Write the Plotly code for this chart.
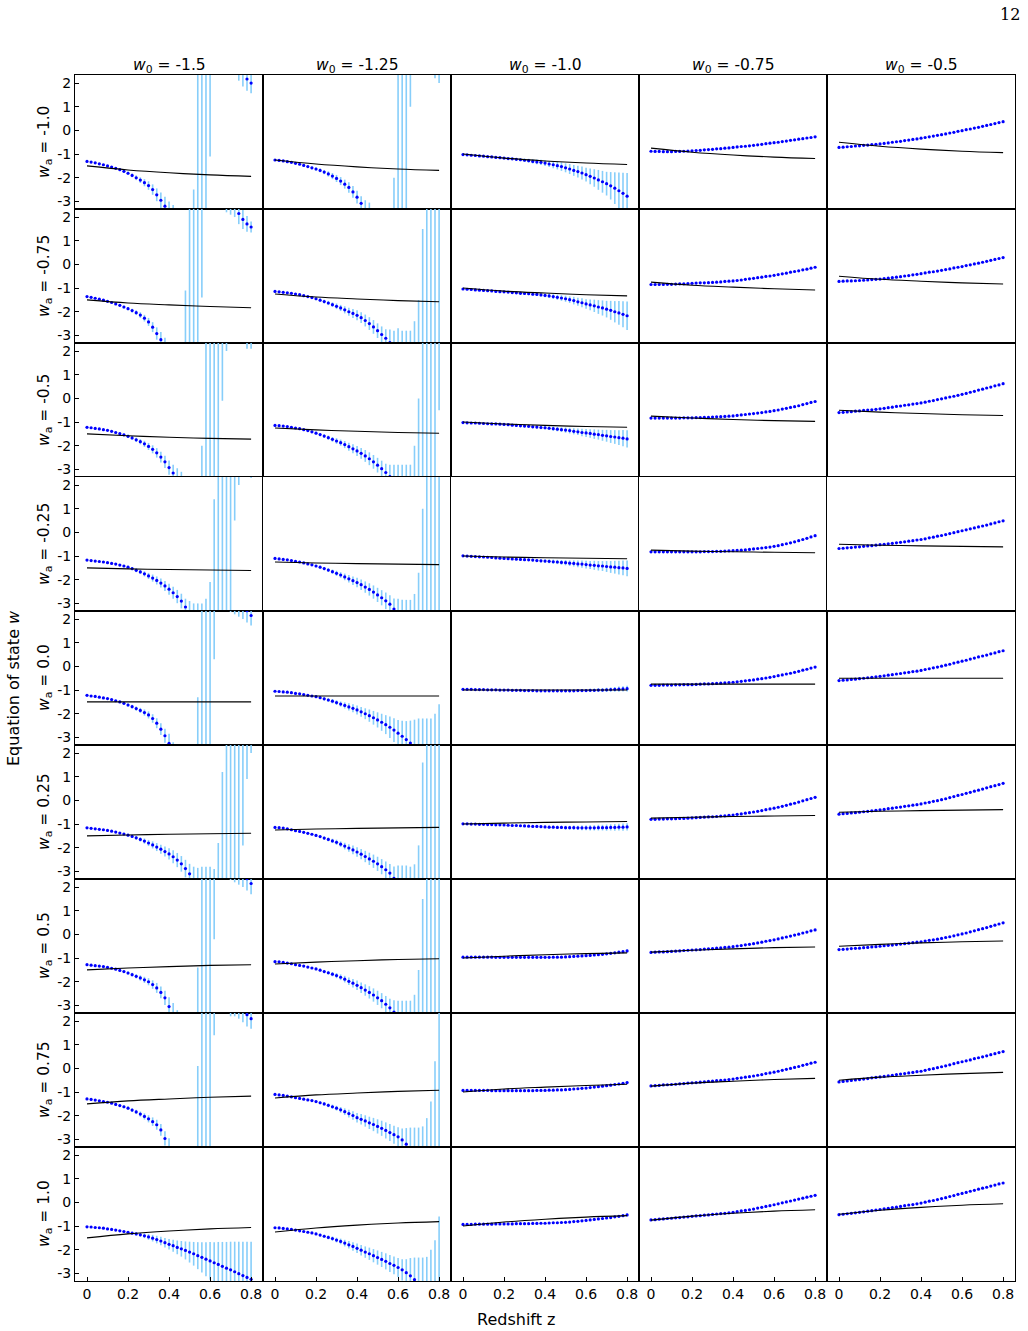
import plotly.graph_objects as go
from plotly.subplots import make_subplots

# ---------------- categories / ticks ----------------
W0_LABELS = ["-1.5", "-1.25", "-1.0", "-0.75", "-0.5"]
WA_LABELS = ["-1.0", "-0.75", "-0.5", "-0.25", "0.0", "0.25", "0.5", "0.75", "1.0"]
X_TICKVALS = [0, 0.2, 0.4, 0.6, 0.8]
X_TICKTEXT = ["0", "0.2", "0.4", "0.6", "0.8"]
Y_TICKVALS = [2, 1, 0, -1, -2, -3]
Y_TICKTEXT = ["2", "1", "0", "-1", "-2", "-3"]

# redshift grid of the reconstructed points
Z = [0.00, 0.02, 0.04, 0.06, 0.08, 0.10, 0.12, 0.14, 0.16, 0.18,
     0.20, 0.22, 0.24, 0.26, 0.28, 0.30, 0.32, 0.34, 0.36, 0.38,
     0.40, 0.42, 0.44, 0.46, 0.48, 0.50, 0.52, 0.54, 0.56, 0.58,
     0.60, 0.62, 0.64, 0.66, 0.68, 0.70, 0.72, 0.74, 0.76, 0.78,
     0.80]
# redshifts of the fiducial (black) curve samples
Z_LINE = [0.0, 0.2, 0.4, 0.6, 0.8]

# ---------------- fiducial curves (black), per row, 5 columns ----------------
L_R1 = [[-1.5, -1.67, -1.79, -1.88, -1.94], [-1.25, -1.42, -1.54, -1.63, -1.69], [-1.0, -1.17, -1.29, -1.38, -1.44], [-0.75, -0.92, -1.04, -1.13, -1.19], [-0.5, -0.67, -0.79, -0.88, -0.94]]
L_R2 = [[-1.5, -1.63, -1.71, -1.78, -1.83], [-1.25, -1.38, -1.46, -1.53, -1.58], [-1.0, -1.13, -1.21, -1.28, -1.33], [-0.75, -0.88, -0.96, -1.03, -1.08], [-0.5, -0.63, -0.71, -0.78, -0.83]]
L_R3 = [[-1.5, -1.58, -1.64, -1.69, -1.72], [-1.25, -1.33, -1.39, -1.44, -1.47], [-1.0, -1.08, -1.14, -1.19, -1.22], [-0.75, -0.83, -0.89, -0.94, -0.97], [-0.5, -0.58, -0.64, -0.69, -0.72]]
L_R4 = [[-1.5, -1.54, -1.57, -1.59, -1.61], [-1.25, -1.29, -1.32, -1.34, -1.36], [-1.0, -1.04, -1.07, -1.09, -1.11], [-0.75, -0.79, -0.82, -0.84, -0.86], [-0.5, -0.54, -0.57, -0.59, -0.61]]
L_R5 = [[-1.5, -1.5, -1.5, -1.5, -1.5], [-1.25, -1.25, -1.25, -1.25, -1.25], [-1.0, -1.0, -1.0, -1.0, -1.0], [-0.75, -0.75, -0.75, -0.75, -0.75], [-0.5, -0.5, -0.5, -0.5, -0.5]]
L_R6 = [[-1.5, -1.46, -1.43, -1.41, -1.39], [-1.25, -1.21, -1.18, -1.16, -1.14], [-1.0, -0.96, -0.93, -0.91, -0.89], [-0.75, -0.71, -0.68, -0.66, -0.64], [-0.5, -0.46, -0.43, -0.41, -0.39]]
L_R7 = [[-1.5, -1.42, -1.36, -1.31, -1.28], [-1.25, -1.17, -1.11, -1.06, -1.03], [-1.0, -0.92, -0.86, -0.81, -0.78], [-0.75, -0.67, -0.61, -0.56, -0.53], [-0.5, -0.42, -0.36, -0.31, -0.28]]
L_R8 = [[-1.5, -1.37, -1.29, -1.22, -1.17], [-1.25, -1.12, -1.04, -0.97, -0.92], [-1.0, -0.87, -0.79, -0.72, -0.67], [-0.75, -0.62, -0.54, -0.47, -0.42], [-0.5, -0.37, -0.29, -0.22, -0.17]]
L_R9 = [[-1.5, -1.33, -1.21, -1.12, -1.06], [-1.25, -1.08, -0.96, -0.87, -0.81], [-1.0, -0.83, -0.71, -0.62, -0.56], [-0.75, -0.58, -0.46, -0.37, -0.31], [-0.5, -0.33, -0.21, -0.12, -0.06]]

# ---------------- reconstructed w(z) (blue points) ----------------
W_R1 = [
    [-1.31, -1.34, -1.37, -1.41, -1.45, -1.50, -1.55, -1.60, -1.66, -1.73,
     -1.81, -1.90, -2.00, -2.10, -2.21, -2.33, -2.50, -2.72, -2.95, -3.20,
     -3.50, -4.00, -4.80, -5.80, -7.20, -9.00, -12.0, -16.0, -25.0, -40.0,
     60.0, 30.0, 15.0, 9.0, 6.5, 5.0, 4.0, 2.9, 2.5, 2.17, 2.0],
    [-1.25, -1.27, -1.29, -1.32, -1.35, -1.39, -1.43, -1.48, -1.53, -1.58,
     -1.63, -1.69, -1.76, -1.84, -1.93, -2.03, -2.14, -2.27, -2.41, -2.60,
     -2.82, -3.08, -3.35, -3.70, -4.2, -4.9, -5.8, -7.0, -9.0, -13.0,
     -20.0, -30.0, -50.0, 80.0, 30.0, 15.0, 9.0, 6.0, 4.5, 3.6, 3.2],
    [-1.02, -1.03, -1.05, -1.06, -1.08, -1.09, -1.11, -1.12, -1.14, -1.15,
     -1.17, -1.19, -1.20, -1.22, -1.24, -1.26, -1.28, -1.31, -1.33, -1.35,
     -1.38, -1.42, -1.45, -1.49, -1.53, -1.58, -1.63, -1.69, -1.74, -1.80,
     -1.87, -1.94, -2.01, -2.09, -2.17, -2.25, -2.34, -2.44, -2.55, -2.66, -2.78],
    [-0.88, -0.89, -0.89, -0.90, -0.90, -0.90, -0.89, -0.89, -0.88, -0.87,
     -0.86, -0.85, -0.84, -0.82, -0.81, -0.80, -0.78, -0.77, -0.75, -0.74,
     -0.72, -0.70, -0.68, -0.67, -0.65, -0.63, -0.61, -0.59, -0.56, -0.54,
     -0.52, -0.50, -0.47, -0.45, -0.42, -0.40, -0.37, -0.35, -0.32, -0.30, -0.27],
    [-0.72, -0.71, -0.69, -0.68, -0.66, -0.65, -0.63, -0.62, -0.60, -0.59,
     -0.57, -0.55, -0.53, -0.50, -0.48, -0.46, -0.43, -0.41, -0.38, -0.36,
     -0.33, -0.30, -0.27, -0.24, -0.21, -0.18, -0.15, -0.11, -0.08, -0.04,
     -0.01, 0.03, 0.06, 0.10, 0.13, 0.17, 0.21, 0.25, 0.29, 0.33, 0.37],
]
W_R2 = [
    [-1.36, -1.39, -1.43, -1.47, -1.51, -1.56, -1.61, -1.67, -1.73, -1.80,
     -1.87, -1.95, -2.04, -2.14, -2.27, -2.43, -2.65, -2.92, -3.18, -3.50,
     -4.0, -4.8, -6.0, -8.0, -11.0, -18.0, -30.0, -50.0, 60.0, 30.0,
     18.0, 11.0, 7.0, 5.0, 4.0, 3.2, 2.6, 2.15, 1.90, 1.71, 1.58],
    [-1.14, -1.16, -1.18, -1.20, -1.22, -1.25, -1.28, -1.32, -1.36, -1.40,
     -1.45, -1.51, -1.57, -1.63, -1.70, -1.77, -1.84, -1.92, -2.00, -2.07,
     -2.15, -2.25, -2.37, -2.50, -2.64, -2.80, -2.96, -3.12, -3.30, -3.80,
     -4.5, -5.0, -5.5, -6.0, -7.0, -9.0, -12.0, -20.0, -30.0, -50.0, -80.0],
    [-1.04, -1.05, -1.06, -1.08, -1.09, -1.10, -1.11, -1.12, -1.14, -1.15,
     -1.16, -1.17, -1.19, -1.20, -1.22, -1.23, -1.24, -1.26, -1.27, -1.29,
     -1.31, -1.33, -1.36, -1.39, -1.42, -1.45, -1.49, -1.53, -1.58, -1.62,
     -1.67, -1.71, -1.75, -1.80, -1.84, -1.89, -1.94, -2.00, -2.05, -2.11, -2.17],
    [-0.85, -0.85, -0.85, -0.85, -0.84, -0.84, -0.83, -0.82, -0.82, -0.81,
     -0.80, -0.79, -0.78, -0.78, -0.77, -0.76, -0.75, -0.74, -0.72, -0.71,
     -0.70, -0.68, -0.66, -0.63, -0.61, -0.59, -0.56, -0.54, -0.51, -0.49,
     -0.46, -0.43, -0.40, -0.37, -0.33, -0.30, -0.27, -0.23, -0.20, -0.16, -0.12],
    [-0.72, -0.71, -0.70, -0.70, -0.69, -0.68, -0.67, -0.66, -0.64, -0.63,
     -0.62, -0.60, -0.58, -0.56, -0.54, -0.52, -0.49, -0.47, -0.44, -0.42,
     -0.39, -0.36, -0.33, -0.31, -0.28, -0.25, -0.22, -0.19, -0.15, -0.12,
     -0.09, -0.05, -0.02, 0.02, 0.05, 0.09, 0.13, 0.17, 0.21, 0.25, 0.29],
]
W_R3 = [
    [-1.22, -1.24, -1.27, -1.29, -1.32, -1.35, -1.39, -1.44, -1.49, -1.54,
     -1.60, -1.67, -1.75, -1.83, -1.92, -2.03, -2.15, -2.30, -2.48, -2.68,
     -2.92, -3.15, -3.40, -3.8, -4.4, -5.2, -6.5, -8.5, -12.0, -20.0,
     -35.0, -60.0, -120.0, 90.0, 35.0, 15.0, 9.0, 6.0, 4.5, 3.6, 3.2],
    [-1.14, -1.15, -1.17, -1.19, -1.22, -1.25, -1.28, -1.32, -1.36, -1.41,
     -1.47, -1.53, -1.59, -1.66, -1.73, -1.80, -1.87, -1.95, -2.04, -2.13,
     -2.22, -2.32, -2.43, -2.55, -2.68, -2.82, -2.97, -3.13, -3.30, -3.6,
     -4.0, -4.4, -4.8, -5.3, -6.5, -9.0, -15.0, -30.0, -60.0, -150.0, 20.0],
    [-1.02, -1.03, -1.04, -1.04, -1.05, -1.06, -1.07, -1.08, -1.08, -1.09,
     -1.10, -1.11, -1.13, -1.14, -1.16, -1.17, -1.18, -1.20, -1.21, -1.23,
     -1.24, -1.26, -1.28, -1.30, -1.32, -1.34, -1.36, -1.39, -1.41, -1.44,
     -1.46, -1.48, -1.51, -1.53, -1.56, -1.58, -1.61, -1.63, -1.66, -1.68, -1.71],
    [-0.83, -0.83, -0.83, -0.83, -0.83, -0.83, -0.83, -0.83, -0.82, -0.82,
     -0.82, -0.81, -0.81, -0.80, -0.80, -0.79, -0.78, -0.77, -0.76, -0.75,
     -0.74, -0.72, -0.70, -0.68, -0.66, -0.64, -0.62, -0.60, -0.57, -0.55,
     -0.52, -0.49, -0.45, -0.42, -0.38, -0.35, -0.31, -0.26, -0.22, -0.17, -0.13],
    [-0.60, -0.59, -0.57, -0.56, -0.54, -0.53, -0.51, -0.49, -0.48, -0.46,
     -0.44, -0.42, -0.39, -0.37, -0.34, -0.32, -0.29, -0.27, -0.24, -0.22,
     -0.19, -0.16, -0.12, -0.09, -0.05, -0.02, 0.02, 0.06, 0.09, 0.13,
     0.17, 0.21, 0.26, 0.30, 0.35, 0.39, 0.44, 0.48, 0.53, 0.57, 0.62],
]
W_R4 = [
    [-1.17, -1.19, -1.21, -1.23, -1.25, -1.28, -1.31, -1.34, -1.38, -1.42,
     -1.47, -1.53, -1.60, -1.67, -1.75, -1.84, -1.93, -2.03, -2.14, -2.26,
     -2.40, -2.55, -2.71, -2.90, -3.15, -3.5, -3.9, -4.4, -5.0, -6.0,
     -8.0, -12.0, -20.0, -40.0, -80.0, -200.0, 30.0, 10.0, 6.0, 4.5, 3.5],
    [-1.10, -1.12, -1.14, -1.16, -1.19, -1.22, -1.25, -1.29, -1.33, -1.37,
     -1.42, -1.47, -1.53, -1.59, -1.66, -1.73, -1.80, -1.88, -1.96, -2.04,
     -2.12, -2.21, -2.31, -2.41, -2.52, -2.64, -2.76, -2.89, -3.03, -3.24,
     -3.5, -3.9, -4.3, -4.8, -5.5, -7.5, -12.0, -25.0, -50.0, -100.0, -200.0],
    [-0.99, -1.00, -1.01, -1.02, -1.03, -1.04, -1.05, -1.06, -1.08, -1.09,
     -1.10, -1.11, -1.12, -1.13, -1.14, -1.15, -1.16, -1.17, -1.19, -1.20,
     -1.21, -1.22, -1.24, -1.25, -1.27, -1.28, -1.30, -1.31, -1.33, -1.34,
     -1.36, -1.38, -1.39, -1.41, -1.42, -1.44, -1.46, -1.47, -1.49, -1.50, -1.52],
    [-0.82, -0.82, -0.82, -0.82, -0.82, -0.82, -0.82, -0.82, -0.82, -0.82,
     -0.82, -0.82, -0.82, -0.81, -0.81, -0.81, -0.80, -0.80, -0.79, -0.78,
     -0.77, -0.76, -0.75, -0.74, -0.72, -0.70, -0.68, -0.66, -0.64, -0.62,
     -0.59, -0.56, -0.52, -0.48, -0.44, -0.40, -0.35, -0.30, -0.25, -0.19, -0.14],
    [-0.68, -0.67, -0.65, -0.64, -0.62, -0.61, -0.59, -0.57, -0.56, -0.54,
     -0.52, -0.50, -0.48, -0.46, -0.44, -0.42, -0.40, -0.37, -0.35, -0.32,
     -0.30, -0.27, -0.23, -0.20, -0.16, -0.13, -0.09, -0.05, -0.01, 0.03,
     0.07, 0.11, 0.15, 0.19, 0.23, 0.27, 0.31, 0.36, 0.40, 0.45, 0.49],
]
W_R5 = [
    [-1.22, -1.25, -1.27, -1.30, -1.33, -1.36, -1.40, -1.45, -1.50, -1.56,
     -1.63, -1.70, -1.78, -1.86, -1.95, -2.05, -2.20, -2.40, -2.65, -2.93,
     -3.25, -3.8, -4.5, -5.5, -7.0, -9.0, -12.0, -18.0, -30.0, -60.0,
     -150.0, 40.0, 15.0, 9.0, 6.0, 4.5, 3.6, 3.0, 2.6, 2.35, 2.15],
    [-1.05, -1.06, -1.08, -1.09, -1.11, -1.14, -1.16, -1.19, -1.22, -1.25,
     -1.28, -1.32, -1.37, -1.42, -1.47, -1.53, -1.59, -1.65, -1.71, -1.77,
     -1.84, -1.92, -2.00, -2.08, -2.17, -2.26, -2.36, -2.46, -2.57, -2.69,
     -2.82, -2.95, -3.09, -3.24, -3.40, -3.6, -3.8, -4.0, -4.25, -4.5, -4.8],
    [-0.97, -0.97, -0.97, -0.98, -0.98, -0.98, -0.99, -0.99, -0.99, -1.00,
     -1.00, -1.00, -1.01, -1.01, -1.01, -1.02, -1.02, -1.02, -1.03, -1.03,
     -1.03, -1.03, -1.03, -1.03, -1.03, -1.03, -1.03, -1.03, -1.02, -1.02,
     -1.02, -1.01, -1.01, -1.00, -1.00, -0.99, -0.98, -0.97, -0.96, -0.95, -0.94],
    [-0.80, -0.80, -0.80, -0.79, -0.79, -0.79, -0.78, -0.78, -0.77, -0.77,
     -0.77, -0.76, -0.75, -0.74, -0.74, -0.73, -0.72, -0.71, -0.70, -0.68,
     -0.67, -0.65, -0.63, -0.61, -0.59, -0.57, -0.54, -0.52, -0.49, -0.46,
     -0.43, -0.39, -0.36, -0.32, -0.29, -0.25, -0.21, -0.16, -0.12, -0.07, -0.03],
    [-0.60, -0.58, -0.57, -0.55, -0.54, -0.52, -0.50, -0.48, -0.46, -0.44,
     -0.42, -0.40, -0.37, -0.35, -0.32, -0.30, -0.27, -0.25, -0.22, -0.20,
     -0.17, -0.13, -0.10, -0.06, -0.03, 0.01, 0.05, 0.09, 0.14, 0.18,
     0.22, 0.26, 0.31, 0.35, 0.40, 0.44, 0.48, 0.53, 0.57, 0.62, 0.66],
]
W_R6 = [
    [-1.16, -1.18, -1.20, -1.22, -1.24, -1.27, -1.30, -1.34, -1.38, -1.42,
     -1.47, -1.52, -1.58, -1.65, -1.72, -1.80, -1.88, -1.97, -2.06, -2.16,
     -2.26, -2.38, -2.52, -2.68, -2.88, -3.10, -3.35, -3.7, -4.1, -4.6,
     -5.2, -6.5, -9.0, -15.0, -30.0, -60.0, -120.0, -300.0, 100.0, 30.0, 12.0],
    [-1.14, -1.15, -1.17, -1.20, -1.24, -1.28, -1.31, -1.35, -1.39, -1.43,
     -1.48, -1.53, -1.59, -1.65, -1.71, -1.77, -1.85, -1.93, -2.01, -2.09,
     -2.18, -2.27, -2.37, -2.47, -2.57, -2.68, -2.80, -2.93, -3.07, -3.29,
     -3.6, -3.9, -4.2, -4.6, -5.2, -6.5, -10.0, -25.0, -50.0, -100.0, -200.0],
    [-0.99, -0.99, -1.00, -1.00, -1.01, -1.01, -1.02, -1.02, -1.03, -1.03,
     -1.04, -1.05, -1.06, -1.06, -1.07, -1.08, -1.09, -1.10, -1.10, -1.11,
     -1.12, -1.13, -1.13, -1.14, -1.14, -1.15, -1.15, -1.15, -1.16, -1.16,
     -1.16, -1.16, -1.16, -1.15, -1.15, -1.15, -1.14, -1.14, -1.13, -1.13, -1.12],
    [-0.80, -0.80, -0.79, -0.79, -0.78, -0.78, -0.77, -0.76, -0.76, -0.75,
     -0.74, -0.73, -0.72, -0.71, -0.70, -0.69, -0.68, -0.66, -0.65, -0.63,
     -0.62, -0.59, -0.57, -0.54, -0.52, -0.49, -0.46, -0.43, -0.39, -0.36,
     -0.33, -0.29, -0.25, -0.21, -0.16, -0.12, -0.07, -0.02, 0.03, 0.08, 0.13],
    [-0.58, -0.56, -0.55, -0.53, -0.52, -0.50, -0.48, -0.46, -0.44, -0.42,
     -0.40, -0.38, -0.35, -0.33, -0.30, -0.28, -0.25, -0.23, -0.20, -0.18,
     -0.15, -0.11, -0.08, -0.04, -0.01, 0.03, 0.07, 0.12, 0.16, 0.21,
     0.25, 0.30, 0.34, 0.39, 0.43, 0.48, 0.53, 0.58, 0.62, 0.67, 0.72],
]
W_R7 = [
    [-1.28, -1.30, -1.32, -1.34, -1.36, -1.39, -1.43, -1.47, -1.52, -1.57,
     -1.63, -1.70, -1.77, -1.84, -1.92, -2.00, -2.12, -2.26, -2.45, -2.68,
     -3.05, -3.5, -4.2, -5.2, -6.8, -9.0, -12.0, -18.0, -30.0, -60.0,
     -150.0, 40.0, 15.0, 9.0, 6.0, 4.5, 3.6, 3.0, 2.6, 2.35, 2.15],
    [-1.15, -1.16, -1.18, -1.21, -1.24, -1.28, -1.31, -1.34, -1.38, -1.42,
     -1.46, -1.51, -1.57, -1.62, -1.68, -1.74, -1.81, -1.89, -1.98, -2.06,
     -2.15, -2.25, -2.35, -2.45, -2.56, -2.68, -2.80, -2.95, -3.10, -3.28,
     -3.6, -3.9, -4.3, -4.7, -5.5, -7.5, -13.0, -30.0, -60.0, -120.0, -250.0],
    [-0.96, -0.96, -0.96, -0.96, -0.96, -0.96, -0.96, -0.96, -0.97, -0.97,
     -0.97, -0.97, -0.97, -0.97, -0.97, -0.97, -0.97, -0.97, -0.97, -0.97,
     -0.97, -0.97, -0.96, -0.96, -0.96, -0.95, -0.94, -0.93, -0.92, -0.91,
     -0.90, -0.89, -0.87, -0.86, -0.84, -0.82, -0.80, -0.78, -0.75, -0.73, -0.70],
    [-0.76, -0.75, -0.74, -0.74, -0.73, -0.72, -0.71, -0.70, -0.68, -0.67,
     -0.66, -0.65, -0.64, -0.62, -0.61, -0.60, -0.58, -0.57, -0.55, -0.54,
     -0.52, -0.49, -0.47, -0.44, -0.42, -0.39, -0.36, -0.33, -0.29, -0.26,
     -0.23, -0.19, -0.15, -0.11, -0.07, -0.03, 0.01, 0.06, 0.10, 0.15, 0.19],
    [-0.64, -0.63, -0.62, -0.60, -0.59, -0.58, -0.56, -0.55, -0.53, -0.52,
     -0.50, -0.48, -0.46, -0.45, -0.43, -0.41, -0.39, -0.37, -0.35, -0.33,
     -0.31, -0.28, -0.25, -0.23, -0.20, -0.17, -0.13, -0.10, -0.06, -0.02,
     0.02, 0.06, 0.11, 0.15, 0.20, 0.24, 0.29, 0.34, 0.39, 0.44, 0.49],
]
W_R8 = [
    [-1.29, -1.31, -1.34, -1.37, -1.40, -1.43, -1.47, -1.52, -1.57, -1.62,
     -1.68, -1.76, -1.84, -1.93, -2.03, -2.13, -2.25, -2.38, -2.60, -2.96,
     -3.35, -3.9, -4.6, -5.6, -7.0, -9.0, -12.0, -18.0, -30.0, -60.0,
     -150.0, 20.0, 12.0, 8.0, 5.5, 4.2, 3.4, 2.9, 2.55, 2.27, 2.10],
    [-1.10, -1.12, -1.14, -1.17, -1.20, -1.24, -1.27, -1.30, -1.33, -1.36,
     -1.40, -1.45, -1.50, -1.56, -1.62, -1.68, -1.75, -1.83, -1.91, -1.99,
     -2.08, -2.15, -2.22, -2.30, -2.37, -2.45, -2.53, -2.62, -2.71, -2.80,
     -2.89, -3.02, -3.20, -3.40, -3.6, -3.9, -4.4, -5.5, -8.0, -20.0, -60.0],
    [-0.93, -0.93, -0.93, -0.93, -0.93, -0.93, -0.93, -0.94, -0.94, -0.94,
     -0.94, -0.94, -0.94, -0.94, -0.94, -0.94, -0.94, -0.94, -0.93, -0.93,
     -0.93, -0.92, -0.92, -0.91, -0.91, -0.90, -0.89, -0.87, -0.86, -0.84,
     -0.83, -0.81, -0.79, -0.77, -0.75, -0.73, -0.71, -0.68, -0.66, -0.63, -0.60],
    [-0.74, -0.73, -0.72, -0.70, -0.69, -0.68, -0.67, -0.65, -0.64, -0.62,
     -0.61, -0.60, -0.58, -0.57, -0.55, -0.54, -0.52, -0.50, -0.49, -0.47,
     -0.45, -0.42, -0.40, -0.37, -0.35, -0.32, -0.29, -0.26, -0.22, -0.19,
     -0.16, -0.12, -0.08, -0.04, 0.00, 0.04, 0.08, 0.13, 0.17, 0.22, 0.26],
    [-0.57, -0.55, -0.53, -0.51, -0.49, -0.47, -0.45, -0.43, -0.40, -0.38,
     -0.36, -0.34, -0.31, -0.29, -0.26, -0.24, -0.22, -0.19, -0.17, -0.14,
     -0.12, -0.08, -0.04, -0.01, 0.03, 0.07, 0.11, 0.15, 0.20, 0.24,
     0.28, 0.32, 0.36, 0.41, 0.45, 0.49, 0.53, 0.58, 0.62, 0.67, 0.71],
]
W_R9 = [
    [-1.03, -1.04, -1.06, -1.07, -1.09, -1.12, -1.14, -1.17, -1.20, -1.23,
     -1.26, -1.30, -1.33, -1.37, -1.41, -1.46, -1.51, -1.57, -1.63, -1.70,
     -1.77, -1.83, -1.90, -1.96, -2.03, -2.10, -2.17, -2.25, -2.32, -2.40,
     -2.47, -2.55, -2.62, -2.70, -2.78, -2.85, -2.93, -3.01, -3.09, -3.17, -3.25],
    [-1.07, -1.08, -1.10, -1.12, -1.14, -1.17, -1.20, -1.23, -1.26, -1.29,
     -1.33, -1.38, -1.43, -1.48, -1.53, -1.59, -1.65, -1.72, -1.79, -1.86,
     -1.94, -2.02, -2.10, -2.17, -2.25, -2.33, -2.41, -2.49, -2.58, -2.66,
     -2.75, -2.85, -2.97, -3.10, -3.26, -3.45, -3.65, -3.9, -4.3, -5.0, -6.0],
    [-0.93, -0.93, -0.93, -0.92, -0.92, -0.92, -0.92, -0.92, -0.91, -0.91,
     -0.91, -0.91, -0.91, -0.90, -0.90, -0.90, -0.90, -0.89, -0.89, -0.88,
     -0.88, -0.87, -0.86, -0.86, -0.85, -0.84, -0.83, -0.81, -0.80, -0.78,
     -0.76, -0.74, -0.72, -0.70, -0.68, -0.66, -0.64, -0.61, -0.59, -0.56, -0.53],
    [-0.74, -0.73, -0.71, -0.70, -0.68, -0.67, -0.65, -0.64, -0.62, -0.61,
     -0.59, -0.57, -0.56, -0.54, -0.53, -0.51, -0.49, -0.47, -0.46, -0.44,
     -0.42, -0.39, -0.36, -0.34, -0.31, -0.28, -0.24, -0.21, -0.17, -0.14,
     -0.10, -0.06, -0.02, 0.02, 0.06, 0.10, 0.14, 0.18, 0.22, 0.26, 0.30],
    [-0.52, -0.50, -0.48, -0.46, -0.44, -0.42, -0.40, -0.37, -0.35, -0.32,
     -0.30, -0.27, -0.25, -0.22, -0.20, -0.17, -0.14, -0.11, -0.09, -0.06,
     -0.03, 0.01, 0.05, 0.08, 0.12, 0.16, 0.20, 0.25, 0.29, 0.34,
     0.38, 0.42, 0.47, 0.51, 0.56, 0.60, 0.64, 0.69, 0.73, 0.78, 0.82],
]

# ---------------- 1-sigma errors of the reconstruction ----------------
ERR_SMALL = [0.01, 0.01, 0.01, 0.01, 0.01, 0.01, 0.01, 0.01, 0.01, 0.01,
             0.01, 0.01, 0.01, 0.01, 0.01, 0.01, 0.01, 0.01, 0.01, 0.01,
             0.02, 0.02, 0.02, 0.02, 0.02, 0.02, 0.02, 0.02, 0.02, 0.02,
             0.02, 0.02, 0.02, 0.02, 0.02, 0.03, 0.03, 0.03, 0.03, 0.03, 0.03]
E3_LATE = [0.01, 0.01, 0.01, 0.01, 0.01, 0.01, 0.01, 0.01, 0.01, 0.01,
           0.01, 0.01, 0.01, 0.01, 0.01, 0.01, 0.02, 0.02, 0.02, 0.02,
           0.02, 0.02, 0.02, 0.02, 0.02, 0.02, 0.03, 0.03, 0.03, 0.03,
           0.03, 0.03, 0.03, 0.04, 0.04, 0.04, 0.04, 0.05, 0.05, 0.06, 0.06]

E_R1 = [
    [0.01, 0.01, 0.01, 0.02, 0.02, 0.03, 0.03, 0.04, 0.05, 0.06,
     0.07, 0.08, 0.10, 0.12, 0.15, 0.18, 0.22, 0.27, 0.33, 0.40,
     0.50, 0.85, 1.2, 1.6, 2.2, 3.0, 9.5, 25, 40, 60,
     61.1, 10, 5, 3, 2, 1.8, 1.5, 0.8, 0.65, 0.5, 0.43],
    [0.01, 0.01, 0.01, 0.02, 0.02, 0.03, 0.03, 0.04, 0.05, 0.06,
     0.07, 0.08, 0.09, 0.11, 0.13, 0.15, 0.17, 0.19, 0.22, 0.25,
     0.27, 0.30, 0.40, 0.65, 0.9, 1.3, 2.0, 3.0, 5.5, 11,
     30, 45, 70, 79, 10, 5, 3, 2, 1.5, 1.4, 1.2],
    [0.01, 0.01, 0.01, 0.01, 0.02, 0.02, 0.02, 0.02, 0.03, 0.03,
     0.04, 0.04, 0.05, 0.05, 0.06, 0.07, 0.08, 0.09, 0.10, 0.11,
     0.12, 0.13, 0.15, 0.16, 0.18, 0.19, 0.21, 0.23, 0.25, 0.27,
     0.29, 0.33, 0.37, 0.42, 0.46, 0.50, 0.58, 0.67, 0.77, 0.87, 0.98],
    ERR_SMALL, ERR_SMALL,
]
E_R2 = [
    [0.01, 0.01, 0.01, 0.02, 0.02, 0.03, 0.03, 0.04, 0.05, 0.06,
     0.07, 0.08, 0.10, 0.12, 0.14, 0.17, 0.21, 0.26, 0.32, 0.40,
     0.6, 1.0, 1.6, 2.4, 9.9, 30, 50, 80, 61.4, 10,
     5, 3, 2, 1.5, 1.8, 1.1, 0.6, 0.45, 0.4, 0.33, 0.23],
    [0.01, 0.01, 0.01, 0.02, 0.02, 0.02, 0.03, 0.03, 0.04, 0.05,
     0.06, 0.07, 0.08, 0.09, 0.10, 0.12, 0.13, 0.15, 0.17, 0.19,
     0.21, 0.23, 0.25, 0.27, 0.29, 0.31, 0.34, 0.38, 0.55, 1.0,
     1.8, 2.2, 2.7, 3.2, 4.6, 7.5, 13.5, 40, 60, 100, 150],
    [0.01, 0.01, 0.01, 0.01, 0.01, 0.02, 0.02, 0.02, 0.02, 0.03,
     0.03, 0.03, 0.04, 0.04, 0.05, 0.05, 0.06, 0.06, 0.07, 0.07,
     0.08, 0.09, 0.10, 0.11, 0.12, 0.13, 0.14, 0.16, 0.17, 0.19,
     0.20, 0.23, 0.26, 0.29, 0.32, 0.35, 0.40, 0.45, 0.50, 0.55, 0.60],
    ERR_SMALL, ERR_SMALL,
]
E_R3 = [
    [0.01, 0.01, 0.01, 0.02, 0.02, 0.03, 0.03, 0.04, 0.05, 0.06,
     0.07, 0.08, 0.09, 0.11, 0.13, 0.15, 0.17, 0.20, 0.23, 0.26,
     0.30, 0.35, 0.45, 0.7, 1.0, 1.5, 2.4, 4.0, 10, 40,
     60, 90, 160, 90.1, 33, 10, 5, 3, 2, 1.5, 1.1],
    [0.01, 0.01, 0.01, 0.02, 0.02, 0.02, 0.03, 0.03, 0.04, 0.05,
     0.06, 0.07, 0.08, 0.09, 0.10, 0.12, 0.13, 0.15, 0.17, 0.19,
     0.21, 0.23, 0.25, 0.27, 0.29, 0.31, 0.34, 0.37, 0.5, 0.8,
     1.2, 1.6, 2.0, 2.5, 4.5, 9, 30, 60, 120, 300, 20.5],
    [0.01, 0.01, 0.01, 0.01, 0.01, 0.02, 0.02, 0.02, 0.02, 0.02,
     0.03, 0.03, 0.03, 0.04, 0.04, 0.05, 0.05, 0.06, 0.06, 0.07,
     0.07, 0.08, 0.09, 0.09, 0.10, 0.11, 0.12, 0.13, 0.14, 0.16,
     0.17, 0.18, 0.20, 0.21, 0.23, 0.25, 0.27, 0.29, 0.31, 0.34, 0.36],
    ERR_SMALL, ERR_SMALL,
]
E_R4 = [
    [0.01, 0.01, 0.01, 0.01, 0.02, 0.02, 0.03, 0.03, 0.04, 0.05,
     0.06, 0.07, 0.08, 0.09, 0.11, 0.13, 0.15, 0.17, 0.19, 0.21,
     0.23, 0.25, 0.28, 0.31, 0.35, 0.6, 0.9, 1.4, 2.0, 3.2,
     5.9, 13.4, 40, 80, 160, 400, 29.5, 8, 3.5, 2, 1.2],
    [0.01, 0.01, 0.01, 0.01, 0.02, 0.02, 0.02, 0.03, 0.04, 0.04,
     0.05, 0.06, 0.07, 0.08, 0.09, 0.11, 0.12, 0.14, 0.16, 0.18,
     0.20, 0.22, 0.24, 0.26, 0.28, 0.30, 0.32, 0.35, 0.38, 0.45,
     0.7, 1.05, 1.45, 1.95, 2.9, 5.8, 13, 50, 100, 200, 400],
    [0.01, 0.01, 0.01, 0.01, 0.01, 0.02, 0.02, 0.02, 0.02, 0.02,
     0.03, 0.03, 0.03, 0.04, 0.04, 0.05, 0.05, 0.06, 0.06, 0.07,
     0.07, 0.08, 0.09, 0.09, 0.10, 0.11, 0.12, 0.13, 0.14, 0.15,
     0.16, 0.17, 0.19, 0.20, 0.21, 0.23, 0.25, 0.27, 0.29, 0.31, 0.33],
    ERR_SMALL, ERR_SMALL,
]
E_R5 = [
    [0.01, 0.01, 0.01, 0.02, 0.02, 0.03, 0.03, 0.04, 0.05, 0.06,
     0.07, 0.08, 0.09, 0.11, 0.13, 0.15, 0.18, 0.21, 0.25, 0.30,
     0.40, 0.6, 1.0, 1.5, 2.2, 3.5, 6, 16.7, 50, 100,
     250, 39.7, 12, 6, 3.5, 2.2, 1.4, 0.9, 0.6, 0.5, 0.42],
    [0.01, 0.01, 0.01, 0.01, 0.02, 0.02, 0.02, 0.03, 0.03, 0.04,
     0.05, 0.06, 0.07, 0.08, 0.09, 0.10, 0.11, 0.13, 0.15, 0.17,
     0.19, 0.21, 0.23, 0.26, 0.29, 0.32, 0.36, 0.40, 0.45, 0.50,
     0.56, 0.65, 0.78, 0.95, 1.15, 1.4, 1.6, 1.8, 2.05, 2.5, 3.2],
    [0.01, 0.01, 0.01, 0.01, 0.01, 0.01, 0.01, 0.01, 0.01, 0.01,
     0.01, 0.01, 0.01, 0.01, 0.01, 0.01, 0.02, 0.02, 0.02, 0.02,
     0.03, 0.03, 0.03, 0.04, 0.04, 0.04, 0.05, 0.05, 0.05, 0.06,
     0.06, 0.07, 0.07, 0.08, 0.08, 0.09, 0.09, 0.10, 0.11, 0.11, 0.12],
    ERR_SMALL, ERR_SMALL,
]
E_R6 = [
    [0.01, 0.01, 0.01, 0.01, 0.02, 0.02, 0.03, 0.03, 0.04, 0.05,
     0.06, 0.07, 0.08, 0.09, 0.11, 0.13, 0.15, 0.17, 0.19, 0.21,
     0.24, 0.27, 0.30, 0.33, 0.37, 0.42, 0.55, 0.85, 1.3, 1.8,
     2.4, 3.6, 7.2, 16.2, 60, 120, 240, 600, 101.9, 29.1, 10],
    [0.01, 0.01, 0.01, 0.01, 0.02, 0.02, 0.02, 0.03, 0.04, 0.04,
     0.05, 0.06, 0.07, 0.08, 0.09, 0.11, 0.12, 0.14, 0.16, 0.18,
     0.20, 0.22, 0.24, 0.26, 0.28, 0.30, 0.32, 0.35, 0.38, 0.5,
     0.85, 1.15, 1.45, 1.8, 2.5, 4.6, 11.6, 50, 100, 200, 400],
    [0.01, 0.01, 0.01, 0.01, 0.01, 0.01, 0.01, 0.01, 0.01, 0.01,
     0.01, 0.02, 0.02, 0.02, 0.03, 0.03, 0.03, 0.04, 0.04, 0.05,
     0.05, 0.06, 0.06, 0.07, 0.07, 0.08, 0.08, 0.09, 0.09, 0.10,
     0.10, 0.11, 0.11, 0.12, 0.12, 0.13, 0.13, 0.14, 0.14, 0.15, 0.15],
    ERR_SMALL, ERR_SMALL,
]
E_R7 = [
    [0.01, 0.01, 0.01, 0.02, 0.02, 0.03, 0.03, 0.04, 0.05, 0.06,
     0.07, 0.08, 0.09, 0.11, 0.13, 0.15, 0.18, 0.21, 0.25, 0.30,
     0.40, 0.6, 1.0, 1.5, 2.2, 3.5, 6, 16.6, 50, 100,
     250, 40.2, 12, 6, 3.5, 2.2, 1.4, 0.9, 0.6, 0.5, 0.45],
    [0.01, 0.01, 0.01, 0.01, 0.02, 0.02, 0.02, 0.03, 0.04, 0.04,
     0.05, 0.06, 0.07, 0.08, 0.09, 0.11, 0.12, 0.14, 0.16, 0.18,
     0.20, 0.22, 0.24, 0.26, 0.28, 0.30, 0.32, 0.35, 0.38, 0.5,
     0.8, 1.1, 1.5, 1.9, 2.95, 6.0, 14.5, 60, 120, 240, 500],
    E3_LATE, ERR_SMALL, ERR_SMALL,
]
E_R8 = [
    [0.01, 0.01, 0.01, 0.02, 0.02, 0.03, 0.03, 0.04, 0.05, 0.06,
     0.07, 0.08, 0.09, 0.11, 0.13, 0.15, 0.18, 0.21, 0.25, 0.30,
     0.40, 0.6, 1.0, 1.5, 2.2, 3.5, 6, 18.1, 50, 100,
     250, 18.6, 8, 5, 3, 2, 1.2, 0.8, 0.6, 0.5, 0.42],
    [0.01, 0.01, 0.01, 0.01, 0.02, 0.02, 0.02, 0.03, 0.04, 0.04,
     0.05, 0.06, 0.07, 0.08, 0.09, 0.10, 0.12, 0.14, 0.16, 0.18,
     0.20, 0.22, 0.24, 0.26, 0.28, 0.30, 0.32, 0.34, 0.36, 0.38,
     0.40, 0.48, 0.68, 0.90, 1.1, 1.4, 1.95, 3.4, 6.6, 20.3, 100],
    E3_LATE, ERR_SMALL, ERR_SMALL,
]
E_R9 = [
    [0.01, 0.01, 0.01, 0.01, 0.02, 0.02, 0.02, 0.03, 0.03, 0.04,
     0.05, 0.06, 0.07, 0.08, 0.10, 0.12, 0.14, 0.16, 0.18, 0.20,
     0.22, 0.25, 0.29, 0.33, 0.38, 0.44, 0.50, 0.57, 0.64, 0.72,
     0.80, 0.87, 0.95, 1.03, 1.11, 1.19, 1.27, 1.35, 1.43, 1.51, 1.59],
    [0.01, 0.01, 0.01, 0.01, 0.02, 0.02, 0.02, 0.03, 0.04, 0.04,
     0.05, 0.06, 0.07, 0.08, 0.09, 0.10, 0.12, 0.14, 0.16, 0.18,
     0.20, 0.22, 0.24, 0.26, 0.28, 0.30, 0.32, 0.34, 0.36, 0.38,
     0.40, 0.45, 0.57, 0.75, 0.93, 1.12, 1.32, 1.6, 2.3, 3.4, 5.4],
    E3_LATE, ERR_SMALL, ERR_SMALL,
]

W_ROWS = [W_R1, W_R2, W_R3, W_R4, W_R5, W_R6, W_R7, W_R8, W_R9]
E_ROWS = [E_R1, E_R2, E_R3, E_R4, E_R5, E_R6, E_R7, E_R8, E_R9]
L_ROWS = [L_R1, L_R2, L_R3, L_R4, L_R5, L_R6, L_R7, L_R8, L_R9]

for ri in range(9):
    for ci in range(5):
        assert len(W_ROWS[ri][ci]) == len(Z), ("W", ri + 1, ci + 1, len(W_ROWS[ri][ci]))
        assert len(E_ROWS[ri][ci]) == len(Z), ("E", ri + 1, ci + 1, len(E_ROWS[ri][ci]))

# ---------------- figure ----------------
NR, NC = 9, 5
W_PX, H_PX = 1028, 1331
ML, MR, MT, MB = 75, 13, 75, 50
FONT = "DejaVu Sans"

fig = make_subplots(rows=NR, cols=NC, horizontal_spacing=0, vertical_spacing=0)

for ri in range(NR):
    for ci in range(NC):
        fig.add_trace(go.Scatter(
            x=Z, y=W_ROWS[ri][ci], mode="markers",
            marker=dict(color="#0000FF", size=3.2, line=dict(width=0)),
            error_y=dict(type="data", array=E_ROWS[ri][ci], symmetric=True,
                         color="#87CEFA", thickness=1.6, width=0),
            hoverinfo="skip", showlegend=False), row=ri + 1, col=ci + 1)
        fig.add_trace(go.Scatter(
            x=Z_LINE, y=L_ROWS[ri][ci], mode="lines",
            line=dict(color="black", width=1.1, shape="spline"),
            hoverinfo="skip", showlegend=False), row=ri + 1, col=ci + 1)

for ri in range(NR):
    for ci in range(NC):
        bottom = ri == NR - 1
        left = ci == 0
        fig.update_xaxes(row=ri + 1, col=ci + 1, range=[-0.0585, 0.858],
                         showline=True, mirror=True, linecolor="black", linewidth=1,
                         showgrid=False, zeroline=False,
                         tickvals=X_TICKVALS, ticktext=X_TICKTEXT,
                         ticks="inside" if bottom else "", ticklen=4, tickcolor="black",
                         showticklabels=bottom,
                         tickfont=dict(family=FONT, size=14, color="black"))
        fig.update_yaxes(row=ri + 1, col=ci + 1, range=[-3.32, 2.34],
                         showline=True, mirror=True, linecolor="black", linewidth=1,
                         showgrid=False, zeroline=False,
                         tickvals=Y_TICKVALS, ticktext=Y_TICKTEXT,
                         ticks="inside" if left else "", ticklen=4, tickcolor="black",
                         showticklabels=left,
                         tickfont=dict(family=FONT, size=14, color="black"))

plot_w = W_PX - ML - MR
plot_h = H_PX - MT - MB


def px_x(px):
    return (px - ML) / plot_w


def px_y(py):
    return (H_PX - MB - py) / plot_h


annotations = []
cell_w = plot_w / NC
cell_h = plot_h / NR
for ci, lab in enumerate(W0_LABELS):
    annotations.append(dict(
        text="<i>w</i><sub>0</sub> = " + lab, xref="paper", yref="paper",
        x=px_x(ML + cell_w * (ci + 0.5)), y=px_y(66), xanchor="center", yanchor="middle",
        showarrow=False, font=dict(family=FONT, size=15.5, color="black")))
for ri, lab in enumerate(WA_LABELS):
    annotations.append(dict(
        text="<i>w</i><sub>a</sub> = " + lab, xref="paper", yref="paper",
        x=px_x(45), y=px_y(MT + cell_h * (ri + 0.5)), xanchor="center", yanchor="middle",
        textangle=-90, showarrow=False, font=dict(family=FONT, size=15.5, color="black")))
annotations.append(dict(
    text="Equation of state <i>w</i>", xref="paper", yref="paper",
    x=px_x(13), y=px_y(688), xanchor="center", yanchor="middle", textangle=-90,
    showarrow=False, font=dict(family=FONT, size=16, color="black")))
annotations.append(dict(
    text="Redshift z", xref="paper", yref="paper",
    x=px_x(516), y=px_y(1319), xanchor="center", yanchor="middle",
    showarrow=False, font=dict(family=FONT, size=16, color="black")))
annotations.append(dict(
    text="12", xref="paper", yref="paper",
    x=px_x(1022), y=px_y(14), xanchor="right", yanchor="middle",
    showarrow=False, font=dict(family="DejaVu Serif", size=16, color="black")))

fig.update_layout(
    width=W_PX, height=H_PX,
    margin=dict(l=ML, r=MR, t=MT, b=MB, autoexpand=False),
    paper_bgcolor="white", plot_bgcolor="white",
    showlegend=False, annotations=annotations,
)

fig.write_html("out.html")
